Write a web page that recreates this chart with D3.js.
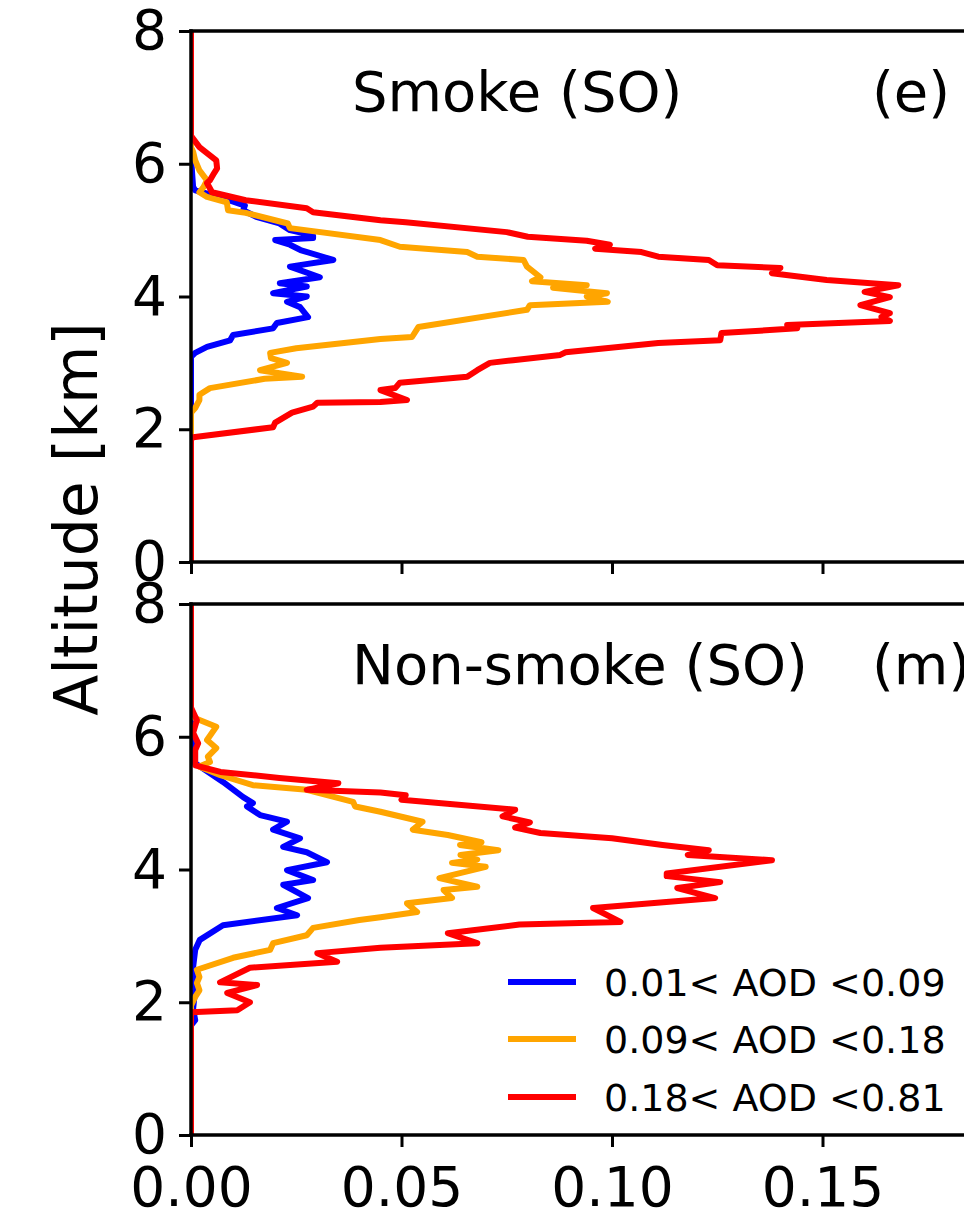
<!DOCTYPE html>
<html><head><meta charset="utf-8">
<script src="https://cdn.jsdelivr.net/npm/d3@7"></script>
<style>body{margin:0;background:#fff}svg{display:block}text{font-family:"DejaVu Sans",sans-serif}</style>
</head><body>
<svg id="c" width="964" height="1215"></svg>
<script>
// ---- data: [value, altitude km] ----
const xTicks = [0, 0.05, 0.10, 0.15];
const yTicks = [0, 2, 4, 6, 8];
const seriesLabels = ["0.01< AOD <0.09", "0.09< AOD <0.18", "0.18< AOD <0.81"];
const seriesColors = ["#0000ff", "#ffa500", "#ff0000"];
const panelTitles = ["Smoke (SO)", "Non-smoke (SO)"];
const panelTags = ["(e)", "(m)"];

const smokeLow = [[0,8],[0,6.1],[0.0005,5.65],[0.001,5.6],[0.005,5.53],[0.009,5.45],[0.0128,5.37],[0.0124,5.3],[0.0155,5.2],[0.021,5.1],[0.0235,5.0],[0.029,4.92],[0.029,4.88],[0.020,4.85],[0.0235,4.78],[0.026,4.7],[0.0338,4.55],[0.0235,4.45],[0.0306,4.29],[0.0211,4.2],[0.0275,4.15],[0.0195,4.05],[0.0275,4.0],[0.0228,3.92],[0.0259,3.84],[0.0278,3.69],[0.0204,3.6],[0.0195,3.52],[0.01,3.42],[0.0093,3.34],[0.0038,3.24],[0.001,3.15],[0,3.09],[0,0]];
const smokeMid = [[0,8],[0,6.25],[0.0005,6.18],[0.001,6.05],[0.002,5.9],[0.0038,5.75],[0.003,5.65],[0.002,5.57],[0.0038,5.5],[0.0085,5.42],[0.0088,5.3],[0.013,5.26],[0.023,5.1],[0.0235,5.03],[0.045,4.85],[0.0496,4.75],[0.0656,4.67],[0.068,4.6],[0.079,4.55],[0.0798,4.45],[0.083,4.29],[0.081,4.23],[0.094,4.17],[0.086,4.13],[0.0988,4.05],[0.094,4.0],[0.099,3.92],[0.0805,3.87],[0.0798,3.8],[0.054,3.54],[0.0525,3.39],[0.045,3.36],[0.025,3.22],[0.0188,3.15],[0.019,3.07],[0.0228,3.0],[0.0164,2.89],[0.0264,2.79],[0.0175,2.76],[0.0045,2.62],[0.002,2.52],[0.002,2.44],[0.001,2.32],[0,2.25],[0,0]];
const smokeHigh = [[0,8],[0,6.42],[0.002,6.25],[0.0038,6.16],[0.006,6.05],[0.0062,5.93],[0.0055,5.86],[0.0045,5.75],[0.0038,5.71],[0.005,5.57],[0.013,5.45],[0.0275,5.33],[0.029,5.27],[0.045,5.15],[0.051,5.12],[0.075,4.97],[0.08,4.9],[0.094,4.84],[0.0995,4.78],[0.096,4.72],[0.107,4.67],[0.111,4.6],[0.123,4.55],[0.125,4.47],[0.14,4.43],[0.138,4.35],[0.151,4.25],[0.168,4.17],[0.16,4.07],[0.166,3.99],[0.159,3.87],[0.166,3.75],[0.164,3.69],[0.166,3.63],[0.1416,3.57],[0.144,3.52],[0.126,3.45],[0.1257,3.34],[0.111,3.3],[0.089,3.16],[0.0877,3.12],[0.0765,3.04],[0.071,3.0],[0.068,2.89],[0.0656,2.79],[0.0496,2.7],[0.0485,2.62],[0.045,2.59],[0.0513,2.44],[0.045,2.41],[0.03,2.4],[0.029,2.34],[0.024,2.25],[0.02,2.1],[0.0195,2.03],[0.0005,1.88],[0,1.84],[0,0]];

const nonLow = [[0,8],[0,6.3],[0.0005,6.2],[0,6.0],[0.001,5.6],[0.0076,5.32],[0.0124,5.09],[0.0147,5.0],[0.0133,4.95],[0.0164,4.82],[0.0228,4.72],[0.0195,4.6],[0.0259,4.47],[0.0219,4.34],[0.0275,4.26],[0.0323,4.11],[0.0228,3.99],[0.029,3.84],[0.0219,3.77],[0.0278,3.57],[0.0204,3.42],[0.0252,3.31],[0.0076,3.16],[0.0021,2.94],[0.001,2.79],[0.0005,2.53],[0.001,2.2],[0.0005,1.9],[0.001,1.73],[0,1.65],[0,0]];
const nonMid = [[0,8],[0,6.35],[0.001,6.28],[0.006,6.15],[0.0038,5.95],[0.006,5.83],[0.004,5.7],[0.0045,5.62],[0.002,5.55],[0.007,5.42],[0.0147,5.27],[0.0275,5.2],[0.0385,5.02],[0.039,4.95],[0.045,4.87],[0.055,4.72],[0.0527,4.6],[0.061,4.52],[0.069,4.41],[0.0639,4.37],[0.073,4.29],[0.064,4.22],[0.068,4.15],[0.062,4.1],[0.070,4.04],[0.059,3.87],[0.068,3.74],[0.06,3.69],[0.062,3.57],[0.0513,3.49],[0.0537,3.36],[0.045,3.28],[0.040,3.24],[0.029,3.12],[0.0275,3.01],[0.0195,2.89],[0.0188,2.79],[0.01,2.67],[0.0014,2.49],[0.002,2.38],[0.0014,2.29],[0.002,2.18],[0.001,2.08],[0,1.95],[0,0]];
const nonHigh = [[0,8],[0,6.44],[0.0014,6.25],[0.0005,6.06],[0.0017,5.9],[0.001,5.8],[0.001,5.57],[0.007,5.47],[0.021,5.38],[0.035,5.3],[0.0275,5.2],[0.045,5.16],[0.051,5.12],[0.05,5.05],[0.077,4.9],[0.074,4.8],[0.0805,4.71],[0.077,4.63],[0.083,4.55],[0.1,4.47],[0.112,4.37],[0.123,4.29],[0.118,4.22],[0.138,4.14],[0.113,3.94],[0.113,3.9],[0.1257,3.81],[0.1155,3.72],[0.1245,3.57],[0.0955,3.42],[0.102,3.21],[0.078,3.17],[0.061,3.04],[0.068,2.89],[0.045,2.82],[0.03,2.74],[0.0347,2.61],[0.014,2.52],[0.0069,2.3],[0.0157,2.26],[0.0086,2.14],[0.014,2.0],[0.011,1.88],[0,1.85],[0,0]];

const panels = [[smokeLow, smokeMid, smokeHigh], [nonLow, nonMid, nonHigh]];

// ---- layout ----
const svg = d3.select("#c");
const left = 191, plotW = 775, plotH = 531;
const panelTops = [31, 604];
const x = d3.scaleLinear().domain([0, plotW / 4210]).range([0, plotW]);
const y = d3.scaleLinear().domain([0, 8]).range([plotH, 0]);
const line = d3.line().x(d => x(d[0])).y(d => y(d[1]));
const FS = 55;

panels.forEach((series, pi) => {
  const g = svg.append("g").attr("transform", `translate(${left},${panelTops[pi]})`);
  g.append("clipPath").attr("id", "clip" + pi).append("rect").attr("width", plotW).attr("height", plotH);

  const lines = g.append("g").attr("clip-path", `url(#clip${pi})`);
  series.forEach((s, si) => {
    lines.append("path").datum(s).attr("d", line)
      .attr("fill", "none").attr("stroke", seriesColors[si])
      .attr("stroke-width", 6).attr("stroke-linejoin", "round").attr("stroke-linecap", "round");
  });

  // titles
  g.append("text").attr("x", 161).attr("y", 80).attr("font-size", 56).text(panelTitles[pi]);
  g.append("text").attr("x", 681).attr("y", 80).attr("font-size", 56).text(panelTags[pi]);

  // axes
  const ya = g.append("g").call(d3.axisLeft(y).tickValues(yTicks).tickFormat(d3.format("d")).tickSize(12).tickPadding(12).tickSizeOuter(0));
  const xa = g.append("g").attr("transform", `translate(0,${plotH})`)
    .call(d3.axisBottom(x).tickValues(xTicks).tickFormat(pi === 1 ? d3.format(".2f") : () => "").tickSize(12).tickPadding(20).tickSizeOuter(0));
  [ya, xa].forEach(a => {
    a.select(".domain").remove();
    a.selectAll(".tick line").attr("stroke", "#000").attr("stroke-width", 3);
    a.selectAll(".tick text").attr("font-size", FS).attr("fill", "#000").attr("font-family", '"DejaVu Sans",sans-serif');
  });

  // spines
  const sp = g.append("g").attr("stroke", "#000").attr("stroke-width", 3.5).attr("stroke-linecap", "square");
  sp.append("line").attr("x1", 0).attr("x2", 0).attr("y1", 0).attr("y2", plotH);
  sp.append("line").attr("x1", 0).attr("x2", plotW).attr("y1", 0).attr("y2", 0);
  sp.append("line").attr("x1", 0).attr("x2", plotW).attr("y1", plotH).attr("y2", plotH);
  sp.append("line").attr("x1", plotW).attr("x2", plotW).attr("y1", 0).attr("y2", plotH);
});

// y label
svg.append("text").attr("transform", "translate(97,519) rotate(-90)")
  .attr("text-anchor", "middle").attr("font-size", 60).text("Altitude [km]");

// legend
const legY = [982, 1039, 1097];
const lg = svg.append("g");
seriesLabels.forEach((lab, i) => {
  lg.append("line").attr("x1", 508).attr("x2", 576).attr("y1", legY[i]).attr("y2", legY[i])
    .attr("stroke", seriesColors[i]).attr("stroke-width", 6);
  lg.append("text").attr("x", 604).attr("y", legY[i] + 14).attr("font-size", 38).text(lab);
});
</script>
</body></html>
